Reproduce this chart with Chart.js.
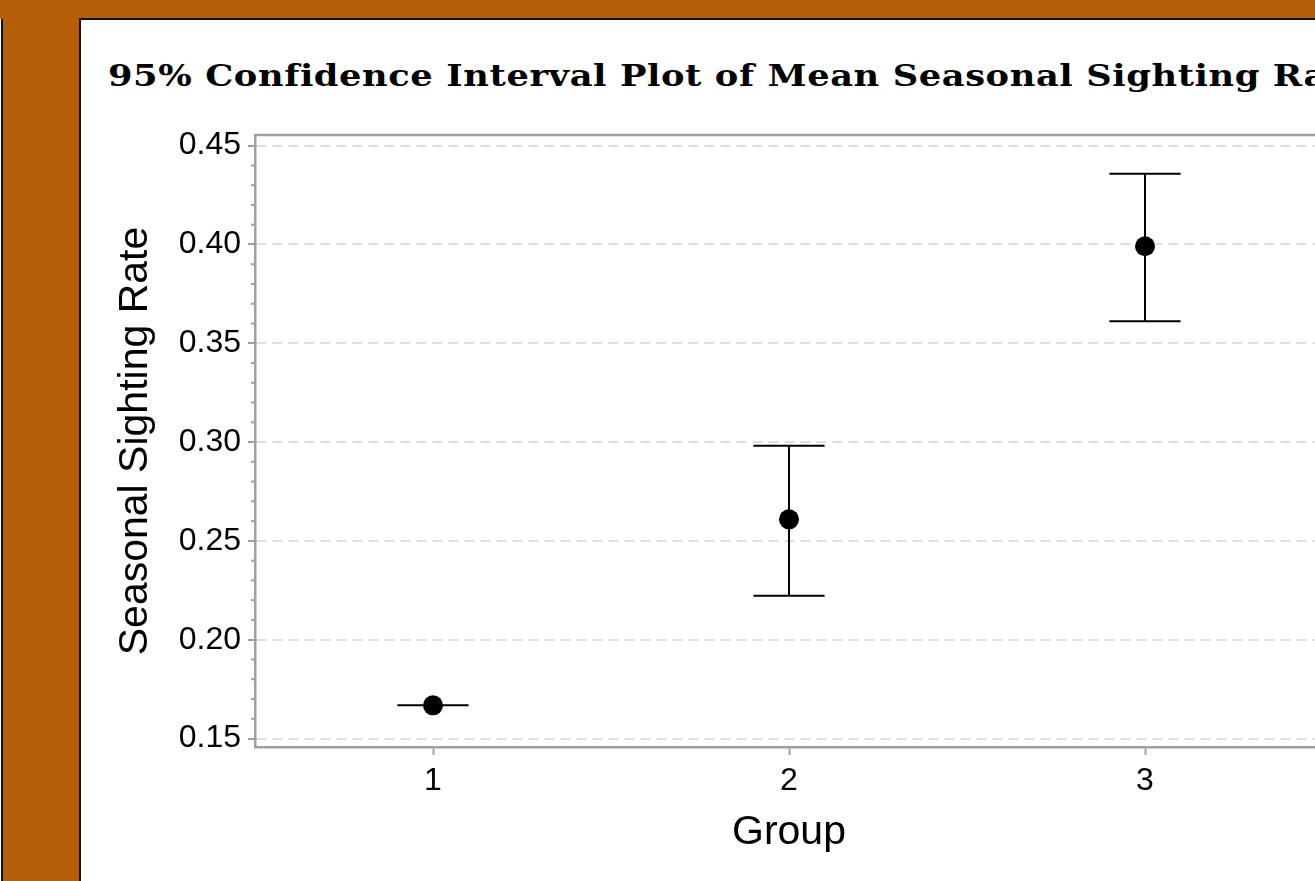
<!DOCTYPE html>
<html>
<head>
<meta charset="utf-8">
<title>95% Confidence Interval Plot of Mean Seasonal Sighting Rate</title>
<script src="https://cdn.jsdelivr.net/npm/chart.js@4.4.0/dist/chart.umd.min.js"></script>
<style>
  html, body { margin: 0; padding: 0; }
  body { width: 1315px; height: 881px; overflow: hidden; background: #b45e07; position: relative; }
  .prev { position: absolute; left: -19px; top: 19px; width: 20px; height: 900px; background: #fff; border-right: 2px solid #111; }
  .panel { position: absolute; left: 79px; top: 18px; width: 1400px; height: 900px; background: #fff; border: 2px solid #111; }
  .title { position: absolute; left: 108px; top: 61px; margin: 0; white-space: nowrap;
           font: bold 30px "DejaVu Serif", serif; line-height: 30px; letter-spacing: 0.5px; color: #000;
           transform: scaleX(1.175); transform-origin: 0 0; }
  .wrap { position: absolute; left: 81px; top: 19px; width: 1272px; height: 862px; }
</style>
</head>
<body>
<div class="prev"></div>
<div class="panel"></div>
<h1 class="title">95% Confidence Interval Plot of Mean Seasonal Sighting Rate</h1>
<div class="wrap"><canvas id="myChart"></canvas></div>
<script>
// data
const groups = [1, 2, 3];
const means = [0.1668, 0.2609, 0.3991];
const lower = [0.1668, 0.2222, 0.3612];
const upper = [0.1668, 0.2981, 0.4358];
const xTicks = [1, 2, 3];
const yTicks = [0.15, 0.20, 0.25, 0.30, 0.35, 0.40, 0.45];

const capHalf = 0.1;
const axisGray = '#a0a0a0';
const sans = '"Liberation Sans", Arial, sans-serif';

// each error bar as one polyline: top cap, whisker, bottom cap
let errorBars = groups.map((g, i) => ({
    showLine: true,
    data: [
        {x: g - capHalf, y: upper[i]},
        {x: g + capHalf, y: upper[i]},
        {x: g, y: upper[i]},
        {x: g, y: lower[i]},
        {x: g - capHalf, y: lower[i]},
        {x: g + capHalf, y: lower[i]}
    ],
    borderColor: '#000',
    borderWidth: 2,
    pointRadius: 0,
    pointHoverRadius: 0,
    fill: false,
    tension: 0
}));

let meanSet = {
    data: groups.map((g, i) => ({x: g, y: means[i]})),
    pointRadius: 10,
    pointHoverRadius: 10,
    pointBackgroundColor: '#000',
    pointBorderColor: '#000',
    pointBorderWidth: 0,
    showLine: false
};

// top/right frame and minor ticks on y
const frame = {
    id: 'frame',
    beforeDatasetsDraw(chart) {
        const {ctx, chartArea: a, scales: {y}} = chart;
        ctx.save();
        ctx.strokeStyle = axisGray;
        ctx.lineWidth = 2.5;
        ctx.beginPath();
        ctx.moveTo(a.left, a.top);
        ctx.lineTo(a.right, a.top);
        ctx.lineTo(a.right, a.bottom);
        ctx.stroke();
        ctx.lineWidth = 2;
        for (let k = 15; k <= 45; k++) {
            if (k % 5 === 0) continue;
            const py = y.getPixelForValue(k / 100);
            ctx.beginPath();
            ctx.moveTo(a.left - 4, py);
            ctx.lineTo(a.left, py);
            ctx.stroke();
        }
        ctx.restore();
    }
};

new Chart("myChart", {
    type: "scatter",
    data: {
        datasets: [meanSet].concat(errorBars)
    },
    options: {
        responsive: true,
        maintainAspectRatio: false,
        animation: false,
        layout: { padding: {left: 0, right: 30, top: 116, bottom: 0} },
        plugins: {
            legend: { display: false },
            tooltip: { enabled: false },
            title: { display: false }
        },
        scales: {
            x: {
                type: 'linear',
                min: 0.5,
                max: 3.5,
                afterBuildTicks: s => { s.ticks = xTicks.map(v => ({value: v})); },
                afterFit: s => { s.height = 134; },
                ticks: {
                    color: '#000',
                    font: {family: sans, size: 32},
                    padding: 7,
                    maxRotation: 0,
                    autoSkip: false,
                    callback: v => String(v)
                },
                grid: { drawOnChartArea: false, tickLength: 8, tickColor: axisGray, tickWidth: 2 },
                border: { color: axisGray, width: 2.5 },
                title: {
                    display: true,
                    text: 'Group',
                    color: '#000',
                    font: {family: sans, size: 41},
                    padding: {top: 0, bottom: 24}
                }
            },
            y: {
                type: 'linear',
                min: 0.1457,
                max: 0.4554,
                afterBuildTicks: s => { s.ticks = yTicks.map(v => ({value: v})); },
                afterFit: s => { s.width = 174; },
                ticks: {
                    color: '#000',
                    font: {family: sans, size: 32},
                    padding: 7,
                    callback: v => v.toFixed(2)
                },
                grid: { color: '#dedede', lineWidth: 2, tickLength: 7, tickColor: axisGray, tickWidth: 2 },
                border: { color: axisGray, width: 2.5, dash: [10, 6] },
                title: {
                    display: true,
                    text: 'Seasonal Sighting Rate',
                    color: '#000',
                    font: {family: sans, size: 41},
                    padding: {top: 30, bottom: 0}
                }
            }
        }
    },
    plugins: [frame]
});
</script>
</body>
</html>
